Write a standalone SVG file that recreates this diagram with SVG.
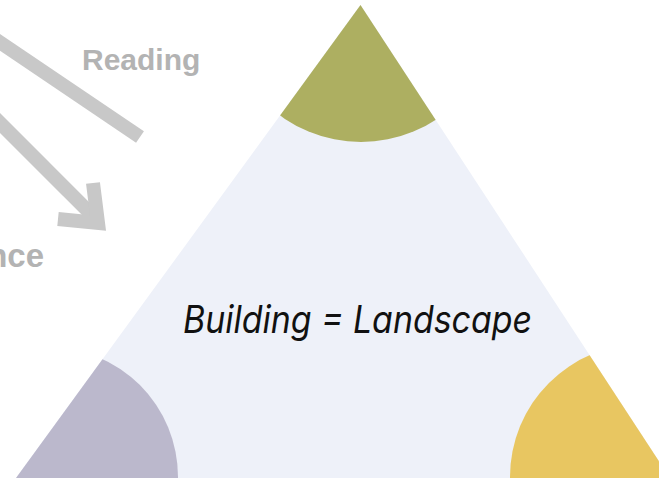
<svg xmlns="http://www.w3.org/2000/svg" width="659" height="482" viewBox="0 0 659 482">
  <style>
    .lbl { font-family: "Liberation Sans", Arial, sans-serif; font-weight: bold; fill: #b3b3b3; }
    .arrow { fill: none; stroke: #c8c8c8; stroke-width: 14; stroke-linecap: butt; stroke-linejoin: miter; stroke-miterlimit: 10; }
    .title { font-family: Inter, "Noto Sans", "Liberation Sans", sans-serif; font-style: italic; font-weight: 400; font-size: 38px; fill: #111111; }
  </style>
  <defs>
    <clipPath id="tri">
      <polygon points="360.5,5 16,478 670,478"/>
    </clipPath>
  </defs>
  <rect x="0" y="0" width="659" height="482" fill="#ffffff"/>

  <g id="triangle">
    <polygon points="360.5,5 16,478 670,478" fill="#eef1f9"/>
  </g>
  <g id="sector-top" clip-path="url(#tri)">
    <circle cx="361" cy="5" r="137" fill="#adaf61"/>
  </g>
  <g id="sector-left" clip-path="url(#tri)">
    <circle cx="48" cy="477" r="130" fill="#bbb8cc"/>
  </g>
  <g id="sector-right" clip-path="url(#tri)">
    <circle cx="643" cy="477" r="133" fill="#e8c661"/>
  </g>

  <g id="connectors">
    <line class="arrow" x1="-5" y1="39" x2="140" y2="137"/>
    <line class="arrow" x1="-5" y1="118" x2="96" y2="219"/>
    <polyline class="arrow" points="93,183 98,223 58,219"/>
  </g>

  <g id="label-reading">
    <text class="lbl" x="82" y="70" font-size="30">Reading</text>
  </g>
  <g id="label-nce">
    <text class="lbl" x="44" y="267" font-size="33" text-anchor="end">nce</text>
  </g>
  <g id="center-label">
    <text class="title" x="183" y="333" textLength="349" lengthAdjust="spacingAndGlyphs">Building = Landscape</text>
  </g>
</svg>
